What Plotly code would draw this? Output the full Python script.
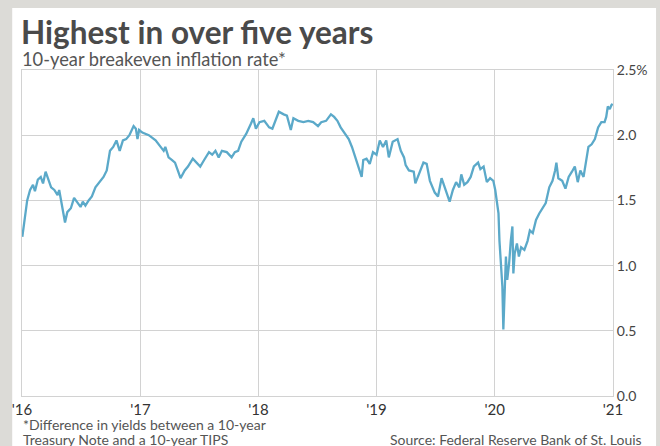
import plotly.graph_objects as go

dates = [
    "2016-01-02", "2016-01-11", "2016-01-17", "2016-01-26", "2016-02-04", "2016-02-10",
    "2016-02-19", "2016-02-28", "2016-03-06", "2016-03-14", "2016-03-31", "2016-04-10",
    "2016-04-20", "2016-04-25", "2016-05-05", "2016-05-13", "2016-05-20", "2016-05-31",
    "2016-06-10", "2016-06-20", "2016-06-30", "2016-07-07", "2016-07-15", "2016-07-25",
    "2016-08-04", "2016-08-15", "2016-08-30", "2016-09-09", "2016-09-19", "2016-09-29",
    "2016-10-09", "2016-10-19", "2016-10-29", "2016-11-08", "2016-11-18", "2016-11-28",
    "2016-12-11", "2016-12-18", "2016-12-23", "2016-12-28", "2017-01-07", "2017-01-27",
    "2017-02-17", "2017-03-04", "2017-03-14", "2017-03-19", "2017-03-29", "2017-04-08",
    "2017-04-18", "2017-04-28", "2017-05-05", "2017-05-18", "2017-05-28", "2017-06-12",
    "2017-06-22", "2017-07-05", "2017-07-17", "2017-08-01", "2017-08-11", "2017-08-21",
    "2017-08-31", "2017-09-10", "2017-09-25", "2017-10-10", "2017-10-20", "2017-10-30",
    "2017-11-09", "2017-11-24", "2017-12-09", "2017-12-16", "2017-12-24", "2018-01-04",
    "2018-01-19", "2018-02-03", "2018-02-13", "2018-02-23", "2018-03-05", "2018-03-20",
    "2018-03-30", "2018-04-11", "2018-04-19", "2018-05-04", "2018-05-20", "2018-06-04",
    "2018-06-19", "2018-07-04", "2018-07-14", "2018-07-29", "2018-08-13", "2018-08-23",
    "2018-09-02", "2018-09-12", "2018-09-22", "2018-10-07", "2018-10-17", "2018-10-27",
    "2018-11-06", "2018-11-16", "2018-11-21", "2018-12-01", "2018-12-11", "2018-12-21",
    "2019-01-01", "2019-01-11", "2019-01-21", "2019-01-31", "2019-02-08", "2019-02-20",
    "2019-03-07", "2019-03-17", "2019-03-27", "2019-04-01", "2019-04-11", "2019-04-26",
    "2019-05-01", "2019-05-11", "2019-05-26", "2019-06-05", "2019-06-15", "2019-06-30",
    "2019-07-10", "2019-07-21", "2019-07-31", "2019-08-15", "2019-08-25", "2019-09-04",
    "2019-09-14", "2019-09-20", "2019-09-29", "2019-10-09", "2019-10-19", "2019-10-29",
    "2019-11-11", "2019-11-18", "2019-11-28", "2019-12-08", "2019-12-18", "2019-12-28",
    "2020-01-03", "2020-01-08", "2020-01-13", "2020-01-16", "2020-01-21", "2020-01-25",
    "2020-01-28", "2020-02-02", "2020-02-05", "2020-02-09", "2020-02-15", "2020-02-20",
    "2020-02-25", "2020-02-28", "2020-03-03", "2020-03-10", "2020-03-16", "2020-03-23",
    "2020-04-02", "2020-04-12", "2020-04-19", "2020-04-28", "2020-05-08", "2020-05-18",
    "2020-05-28", "2020-06-07", "2020-06-18", "2020-06-28", "2020-07-06", "2020-07-10",
    "2020-07-16", "2020-07-28", "2020-08-07", "2020-08-17", "2020-08-27", "2020-09-05",
    "2020-09-14", "2020-09-22", "2020-10-02", "2020-10-12", "2020-10-17", "2020-10-27",
    "2020-11-06", "2020-11-16", "2020-11-26", "2020-12-06", "2020-12-11", "2020-12-16",
    "2020-12-22", "2020-12-27", "2020-12-31",
]

rates = [
    1.22, 1.40, 1.50, 1.58, 1.62, 1.57,
    1.66, 1.68, 1.63, 1.72, 1.60, 1.58,
    1.54, 1.58, 1.45, 1.33, 1.41, 1.44,
    1.52, 1.48, 1.45, 1.49, 1.46, 1.50,
    1.53, 1.60, 1.65, 1.68, 1.73, 1.88,
    1.91, 1.96, 1.88, 1.96, 1.97, 2.00,
    2.07, 2.05, 1.97, 2.04, 2.02, 2.00,
    1.96, 1.91, 1.88, 1.91, 1.83, 1.81,
    1.79, 1.72, 1.67, 1.73, 1.76, 1.82,
    1.79, 1.76, 1.81, 1.87, 1.85, 1.88,
    1.83, 1.88, 1.87, 1.83, 1.87, 1.88,
    1.95, 2.01, 2.09, 2.13, 2.05, 2.10,
    2.11, 2.06, 2.05, 2.11, 2.18, 2.16,
    2.15, 2.04, 2.13, 2.11, 2.10, 2.11,
    2.10, 2.07, 2.10, 2.11, 2.16, 2.14,
    2.11, 2.06, 2.02, 1.97, 1.91, 1.83,
    1.76, 1.68, 1.81, 1.82, 1.78, 1.87,
    1.85, 1.96, 1.91, 1.96, 1.83, 1.95,
    1.97, 1.88, 1.83, 1.77, 1.73, 1.72,
    1.63, 1.69, 1.79, 1.78, 1.65, 1.56,
    1.53, 1.67, 1.60, 1.49, 1.58, 1.64,
    1.60, 1.70, 1.62, 1.64, 1.68, 1.76,
    1.79, 1.74, 1.76, 1.64, 1.67, 1.65,
    1.58, 1.48, 1.40, 1.19, 0.96, 0.84,
    0.51, 0.84, 1.07, 0.89, 1.02, 1.19,
    1.30, 0.94, 1.09, 1.17, 1.07, 1.14,
    1.12, 1.19, 1.27, 1.25, 1.35, 1.40,
    1.44, 1.48, 1.60, 1.65, 1.73, 1.79,
    1.67, 1.65, 1.59, 1.68, 1.72, 1.76,
    1.64, 1.73, 1.68, 1.83, 1.91, 1.93,
    1.97, 2.06, 2.10, 2.10, 2.14, 2.22,
    2.20, 2.23, 2.24,
]

x_tick_vals = ["2016-01-01", "2017-01-01", "2018-01-01", "2019-01-01", "2020-01-01", "2021-01-01"]
x_tick_text = ["'16", "'17", "'18", "'19", "'20", "'21"]
y_tick_vals = [0.0, 0.5, 1.0, 1.5, 2.0, 2.5]
y_tick_text = ["0.0", "0.5", "1.0", "1.5", "2.0", "2.5%"]

title = "Highest in over five years"
subtitle = "10-year breakeven inflation rate*"
note1 = "*Difference in yields between a 10-year"
note2 = "Treasury Note and a 10-year TIPS"
source = "Source: Federal Reserve Bank of St. Louis"

W, H = 660, 446
L, R, T, B = 17, 39, 70, 50
pw, ph = W - L - R, H - T - B


def px(x):
    return (x - L) / pw


def py(y):
    return (H - B - y) / ph


GRID = "#d2d2d2"
FONT = "Lato, 'Open Sans', sans-serif"

fig = go.Figure()
fig.add_trace(go.Scatter(
    x=dates, y=rates, mode="lines",
    line=dict(color="#5ba9c9", width=2.3),
    hoverinfo="skip", showlegend=False,
))

fig.update_layout(
    width=W, height=H,
    margin=dict(l=L, r=R, t=T, b=B, pad=0),
    paper_bgcolor="#dcdbd7",
    plot_bgcolor="white",
    font=dict(family=FONT, color="#444"),
    xaxis=dict(
        range=["2016-01-01", "2021-01-01"],
        tickvals=x_tick_vals, ticktext=x_tick_text,
        showgrid=True, gridcolor=GRID, gridwidth=1,
        showline=True, linecolor=GRID, mirror=True,
        zeroline=False, ticks="",
        tickfont=dict(size=15, color="#333", family=FONT),
    ),
    yaxis=dict(
        range=[0, 2.5], side="right",
        tickvals=y_tick_vals, ticktext=y_tick_text,
        showgrid=True, gridcolor=GRID, gridwidth=1,
        showline=True, linecolor=GRID, mirror=True,
        zeroline=False, ticks="",
        tickfont=dict(size=14, color="#444", family=FONT),
    ),
    shapes=[dict(
        type="rect", xref="paper", yref="paper", layer="below",
        x0=px(7), x1=px(W + 5), y0=py(H + 5), y1=py(8),
        fillcolor="white", line=dict(width=0),
    )],
)

anns = [
    dict(text=f"<b>{title}</b>", x=px(15), y=py(12), size=31.5, color="#4a4a4a", xa="left"),
    dict(text=subtitle, x=px(16), y=py(47), size=18.3, color="#555", xa="left"),
    dict(text=note1, x=px(17), y=py(415), size=14, color="#555", xa="left"),
    dict(text=note2, x=px(17), y=py(430), size=14, color="#555", xa="left"),
    dict(text=source, x=px(652), y=py(430), size=14, color="#555", xa="right"),
]
for a in anns:
    fig.add_annotation(
        text=a["text"], x=a["x"], y=a["y"], xref="paper", yref="paper",
        xanchor=a["xa"], yanchor="top", showarrow=False, borderpad=0,
        font=dict(size=a["size"], color=a["color"], family=FONT),
    )

fig.write_html(
    "out.html",
    config={"displayModeBar": False},
    post_script="document.body.style.margin='0';document.body.style.overflow='hidden';",
)
